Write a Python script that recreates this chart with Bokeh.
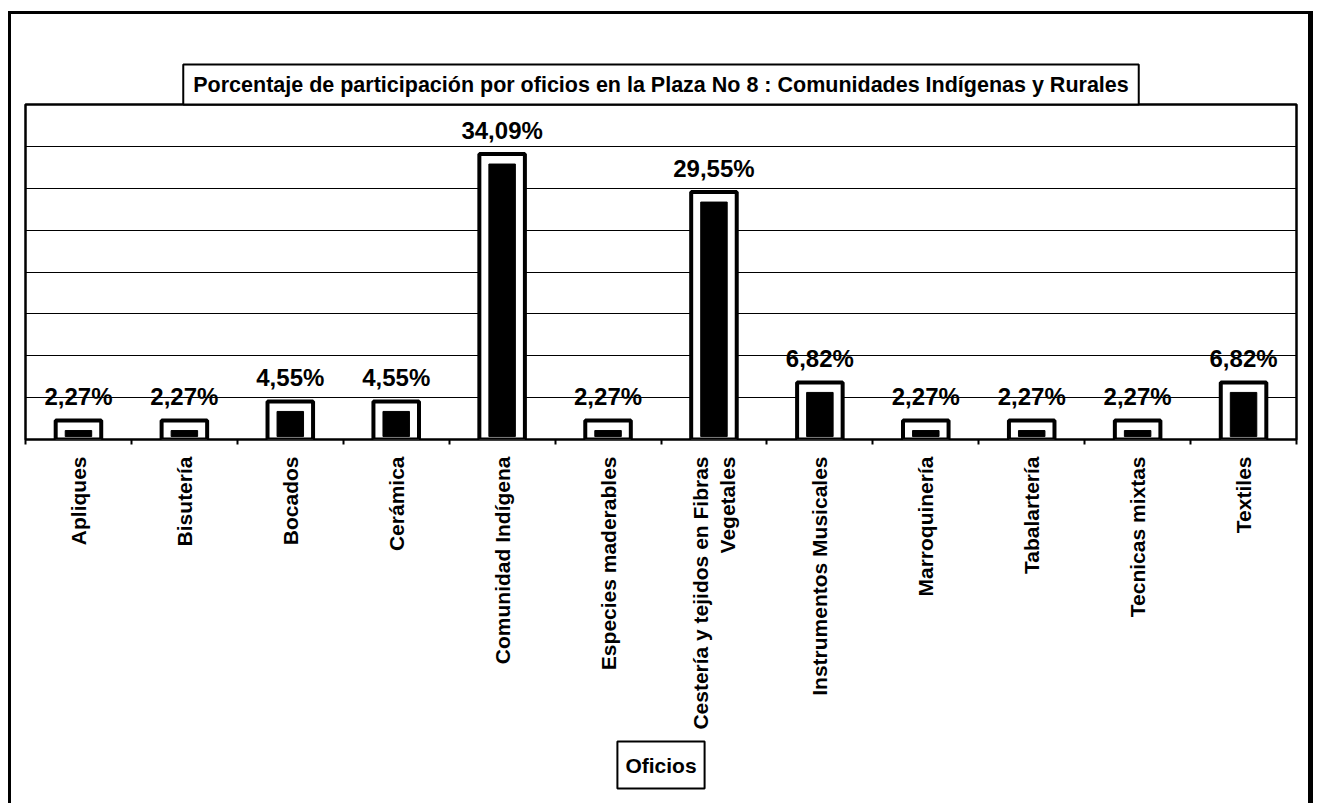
from bokeh.plotting import figure
from bokeh.models import (ColumnDataSource, Range1d, FixedTicker, LabelSet, Title)
from bokeh.core.properties import value
from bokeh.embed import file_html
from bokeh.resources import INLINE
from math import pi

# ---- data ----
oficios = ["Apliques", "Bisutería", "Bocados", "Cerámica", "Comunidad Indígena",
           "Especies maderables", "Cestería y tejidos en Fibras\nVegetales",
           "Instrumentos Musicales", "Marroquinería", "Tabalartería",
           "Tecnicas mixtas", "Textiles"]
porcentajes = [2.27, 2.27, 4.55, 4.55, 34.09, 2.27, 29.55, 6.82, 2.27, 2.27, 2.27, 6.82]
title_text = "Porcentaje de participación por oficios en la Plaza No 8 : Comunidades Indígenas y Rurales"
axis_title = "Oficios"
grid_ticks = [5, 10, 15, 20, 25, 30, 35]

FONT = "Liberation Sans"
INNER_TOP_PAD = 1.2
INNER_BOTTOM = 0.35

n = len(oficios)
centers = [i + 0.5 for i in range(n)]          # category slot centres
bounds = list(range(n + 1))                     # category slot boundaries
labels = [f"{v:.2f}%".replace(".", ",") for v in porcentajes]
source = ColumnDataSource(dict(
    x=centers, top=porcentajes, lab=labels,
    inner_top=[v - INNER_TOP_PAD for v in porcentajes],
))

p = figure(
    x_range=Range1d(0, n), y_range=Range1d(0, 40),
    width=1305, height=792, output_backend="svg", toolbar_location=None,
    y_axis_location=None,
    min_border_left=14, min_border_right=20, min_border_top=90, min_border_bottom=367,
    background_fill_color="white", border_fill_color="white",
    styles={"border-left": "3px solid black", "border-top": "3px solid black",
            "border-right": "5px solid black",
            "margin-left": "8px", "margin-top": "11px"},
)
p.outline_line_color = "black"
p.outline_line_width = 2.5

# the built-in title acts as an invisible spacer next to the frame
p.title.text = " "
p.title.text_font_size = "2px"
p.title.text_alpha = 0
p.title.standoff = 34

# visible title box, stacked further from the frame
p.add_layout(Title(text=title_text, align="center", text_font=FONT,
                   text_font_style="bold", text_font_size="21.5px", text_color="black",
                   background_fill_color="white", border_line_color="black",
                   border_line_width=2, padding=dict(left=10, right=10, top=8, bottom=8),
                   standoff=0), "above")

p.xgrid.grid_line_color = None
p.ygrid.ticker = FixedTicker(ticks=grid_ticks)
p.ygrid.grid_line_color = "black"
p.ygrid.grid_line_width = 1.2

# outer bars (white with thick black outline) and inner black core
p.vbar(x="x", top="top", bottom=0, width=0.43, source=source,
       fill_color="white", line_color="black", line_width=4)
p.vbar(x="x", top="inner_top", bottom=INNER_BOTTOM, width=0.25, source=source,
       fill_color="black", line_color="black", line_width=1)

p.add_layout(LabelSet(x="x", y="top", text="lab", source=source, y_offset=15,
                      text_align="center", text_baseline="alphabetic",
                      text_font=value(FONT), text_font_style="bold",
                      text_font_size="24px", text_color="black"))

# x axis: labels at slot centres, small ticks at slot boundaries
ax = p.xaxis[0]
ax.ticker = FixedTicker(ticks=centers, minor_ticks=bounds)
ax.major_label_overrides = {c: name for c, name in zip(centers, oficios)}
ax.axis_line_color = None
ax.major_tick_line_color = None
ax.major_tick_out = 0
ax.major_tick_in = 0
ax.minor_tick_line_color = "black"
ax.minor_tick_line_width = 2
ax.minor_tick_out = 5
ax.minor_tick_in = 0
ax.major_label_orientation = pi / 2
ax.major_label_standoff = 12
ax.major_label_text_font = FONT
ax.major_label_text_font_style = "bold"
ax.major_label_text_font_size = "21px"
ax.major_label_text_color = "black"

# boxed axis title below the axis
p.add_layout(Title(text=axis_title, align="center", text_font=FONT,
                   text_font_style="bold", text_font_size="21px", text_color="black",
                   background_fill_color="white", border_line_color="black",
                   border_line_width=2, padding=dict(left=8, right=8, top=12, bottom=12),
                   standoff=14), "below")

open("out.html", "w").write(file_html(p, INLINE))
